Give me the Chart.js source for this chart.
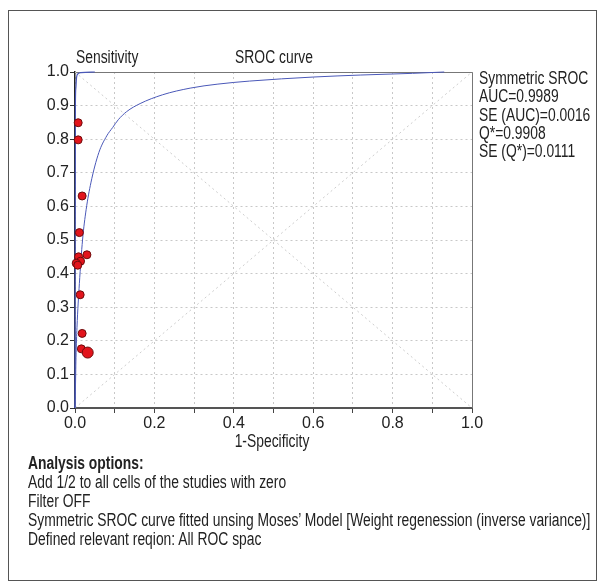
<!DOCTYPE html>
<html><head><meta charset="utf-8">
<script src="https://cdn.jsdelivr.net/npm/chart.js@4.4.1/dist/chart.umd.min.js"></script>
<style>
html,body{margin:0;padding:0;background:#fff;}
#wrap{position:relative;width:597px;height:581px;overflow:hidden;background:#fff;font-family:'Liberation Sans',Arial,sans-serif;color:#222;}
#frame{position:absolute;left:8px;top:10px;width:589px;height:571px;border:1px solid #555;box-sizing:border-box;}
canvas{position:absolute;left:0;top:0;}
.t{position:absolute;white-space:nowrap;font-size:18px;line-height:18px;transform-origin:0 50%;transform:scaleX(0.77);}
.t.c{transform-origin:50% 50%;transform:translateX(-50%) scaleX(0.77);}
</style></head>
<body><div id="wrap"><div id="frame"></div><canvas id="c" width="597" height="581"></canvas><div id="texts"></div></div>
<script>
// ---- data ----
const studyFpr  = [0.008, 0.008, 0.018, 0.011, 0.009, 0.030, 0.014, 0.003, 0.007, 0.013, 0.018, 0.016, 0.032];
const studySens = [0.849, 0.798, 0.631, 0.522, 0.450, 0.456, 0.437, 0.431, 0.425, 0.337, 0.222, 0.176, 0.165];
const bigPointIndex = 12;

const srocFpr  = [0, 0.001, 0.0025, 0.005, 0.011, 0.019, 0.028, 0.04, 0.06, 0.08, 0.095, 0.109, 0.13, 0.164, 0.22, 0.29, 0.36, 0.44, 0.6, 0.72, 0.85, 0.93];
const srocSens = [0, 0.05, 0.15, 0.24, 0.37, 0.50, 0.59, 0.67, 0.76, 0.81, 0.835, 0.858, 0.882, 0.906, 0.932, 0.952, 0.964, 0.973, 0.985, 0.991, 0.996, 1.0];

const steepFpr  = [0, 0.001, 0.002, 0.004, 0.008, 0.015, 0.05];
const steepSens = [0, 0.90, 0.95, 0.985, 0.995, 0.998, 1.0];

const chanceX = [0, 1], chanceY = [0, 1];
const qLineX  = [0, 1], qLineY  = [1, 0];

const xTickLabels = ['0.0','0.2','0.4','0.6','0.8','1.0'];
const yTickLabels = ['0.0','0.1','0.2','0.3','0.4','0.5','0.6','0.7','0.8','0.9','1.0'];

const yAxisTitle = 'Sensitivity';
const chartTitle = 'SROC curve';
const xAxisTitle = '1-Specificity';
const statsLines = ['Symmetric SROC','AUC=0.9989','SE (AUC)=0.0016','Q*=0.9908','SE (Q*)=0.0111'];
const optionsHeader = 'Analysis options:';
const optionsLines = ['Add 1/2 to all cells of the studies with zero','Filter OFF','Symmetric SROC curve fitted unsing Moses\u2019 Model [Weight regenession (inverse variance)]','Defined relevant reqion: All ROC spac'];

// ---- build ----
const pts = (xs, ys) => xs.map((x, i) => ({x, y: ys[i]}));
const FONT = "'Liberation Sans',Arial,sans-serif";

const framePlugin = {
  id: 'frame',
  beforeDatasetsDraw(chart) {
    const {ctx, chartArea: a} = chart;
    ctx.save();
    ctx.strokeStyle = '#777';
    ctx.lineWidth = 1;
    ctx.beginPath();
    ctx.moveTo(a.left, a.top + 0.5); ctx.lineTo(a.right + 0.5, a.top + 0.5);
    ctx.lineTo(a.right + 0.5, a.bottom);
    ctx.stroke();
    ctx.restore();
  }
};

const lineDs = (label, data, color, width, dash, order) => ({
  label, data, showLine: true, pointRadius: 0, borderColor: color, borderWidth: width,
  borderDash: dash, order, clip: 6, fill: false
});

new Chart(document.getElementById('c'), {
  type: 'scatter',
  data: { datasets: [
    { label: 'Studies', data: pts(studyFpr, studySens), backgroundColor: '#e2141c', borderColor: '#6e0b0b', borderWidth: 1,
      pointRadius: c => c.dataIndex === bigPointIndex ? 5.5 : 4, order: 0, clip: 8 },
    Object.assign(lineDs('SROC', pts(srocFpr, srocSens), '#4a58b8', 1, [], 1), {cubicInterpolationMode: 'monotone'}),
    Object.assign(lineDs('SROC steep', pts(steepFpr, steepSens), '#4a58b8', 1.2, [], 1), {cubicInterpolationMode: 'monotone'}),
    lineDs('Chance', pts(chanceX, chanceY), '#cdcdcd', 1, [2, 3], 3),
    lineDs('Q line', pts(qLineX, qLineY), '#cdcdcd', 1, [2, 3], 3)
  ]},
  options: {
    responsive: false, animation: false, devicePixelRatio: 1,
    layout: { padding: { left: 0, top: 72, right: 125, bottom: 0 } },
    plugins: { legend: { display: false }, tooltip: { enabled: false }, title: { display: false } },
    scales: {
      x: {
        type: 'linear', min: 0, max: 1,
        afterFit: s => { s.height = 173; },
        ticks: { stepSize: 0.1, autoSkip: false, maxRotation: 0, padding: 1, color: '#222',
          font: { family: FONT, size: 16 },
          callback: v => { const s = (+v).toFixed(1); return xTickLabels.includes(s) ? s : ''; } },
        grid: { color: '#c8c8c8', lineWidth: 1, tickColor: '#444', tickLength: 5 },
        border: { display: true, color: '#555', width: 2, dash: [2, 3] }
      },
      y: {
        type: 'linear', min: 0, max: 1,
        afterFit: s => { s.width = 75; },
        ticks: { stepSize: 0.1, autoSkip: false, padding: 1, color: '#222',
          font: { family: FONT, size: 16 },
          callback: v => { const s = (+v).toFixed(1); return yTickLabels.includes(s) ? s : ''; } },
        grid: { color: '#c8c8c8', lineWidth: 1, tickColor: '#333', tickLength: 5 },
        border: { display: true, color: '#222', width: 1.5, dash: [2, 3] }
      }
    }
  },
  plugins: [framePlugin]
});

// ---- texts ----
const box = document.getElementById('texts');
function addText(str, left, cy, opts = {}) {
  const d = document.createElement('div');
  d.className = 't' + (opts.center ? ' c' : '');
  d.textContent = str;
  d.style.top = (cy - 9) + 'px';
  d.style.left = left + 'px';
  if (opts.bold) d.style.fontWeight = 'bold';
  box.appendChild(d);
}
addText(yAxisTitle, 76, 57);
addText(chartTitle, 274, 57, {center: true});
addText(xAxisTitle, 272, 441, {center: true});
statsLines.forEach((s, i) => addText(s, 479, 78 + i * 18.3));
addText(optionsHeader, 28, 463, {bold: true});
optionsLines.forEach((s, i) => addText(s, 28, 482 + i * 19));
</script>
</body></html>
